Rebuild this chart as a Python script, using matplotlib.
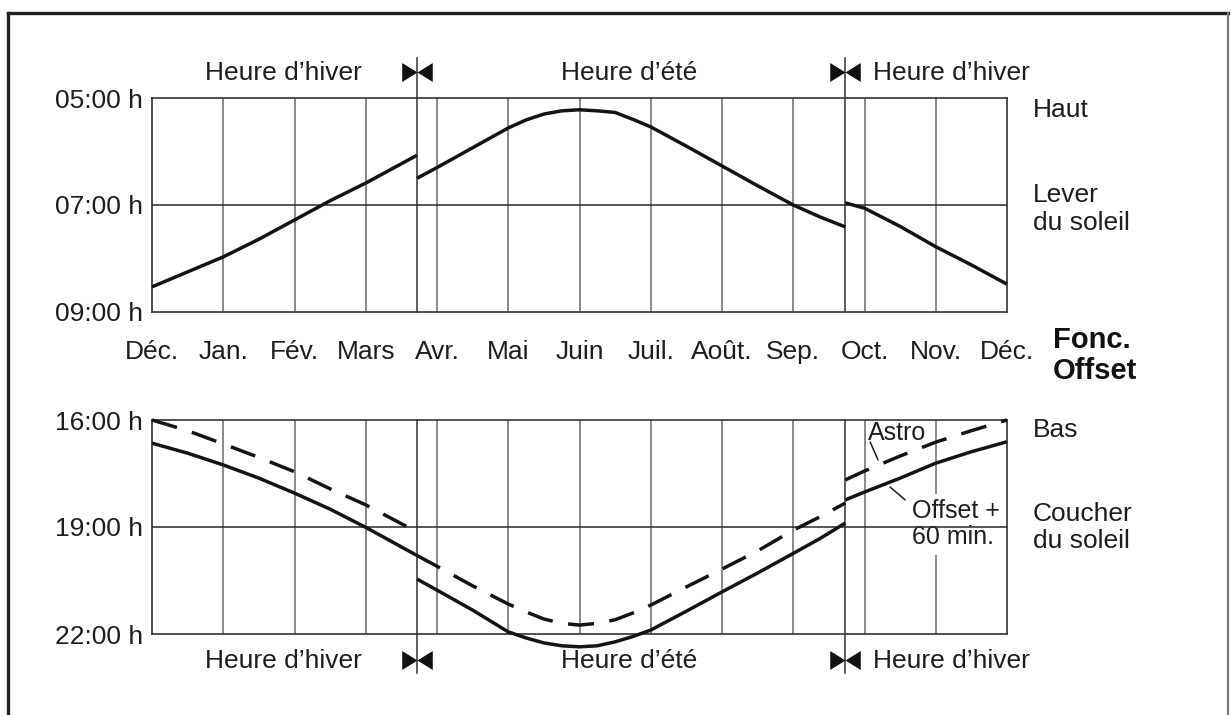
import matplotlib
matplotlib.use("Agg")
import matplotlib.pyplot as plt
from matplotlib.lines import Line2D

plt.rcParams['font.family'] = ['Liberation Sans', 'DejaVu Sans']

W, H = 1231, 715

months = ['Déc.', 'Jan.', 'Fév.', 'Mars', 'Avr.', 'Mai', 'Juin', 'Juil.',
          'Août.', 'Sep.', 'Oct.', 'Nov.', 'Déc.']
dst_spring = 3.72
dst_autumn = 9.73

# lever du soleil, heures décimales (x = mois depuis décembre)
rise_w1_x = [0, 0.5, 1, 1.5, 2, 2.5, 3, 3.72]
rise_w1_y = [8.53, 8.25, 7.97, 7.64, 7.28, 6.92, 6.59, 6.07]
rise_s_x = [3.72, 4, 4.5, 5, 5.25, 5.5, 5.75, 6, 6.25, 6.5, 6.75, 7, 7.5, 8,
            8.5, 9, 9.37, 9.73]
rise_s_y = [6.50, 6.30, 5.93, 5.56, 5.41, 5.30, 5.24, 5.22, 5.24, 5.27, 5.40,
            5.54, 5.90, 6.27, 6.64, 7.00, 7.22, 7.41]
rise_w2_x = [9.73, 10, 10.5, 11, 11.5, 12]
rise_w2_y = [6.96, 7.06, 7.40, 7.78, 8.12, 8.48]

# coucher du soleil : offset +60 min (trait plein) et astro (tirets)
set_w1_x = [0, 0.5, 1, 1.5, 2, 2.5, 3, 3.72]
offset_w1 = [16.65, 16.93, 17.26, 17.63, 18.05, 18.50, 19.01, 19.80]
astro_w1 = [16.00, 16.30, 16.67, 17.05, 17.45, 17.93, 18.38, 19.14]
set_s_x = [3.72, 4, 4.5, 5, 5.25, 5.5, 5.75, 6, 6.25, 6.5, 6.75, 7, 7.5, 8,
           8.5, 9, 9.37, 9.73]
offset_s = [20.46, 20.77, 21.33, 21.94, 22.11, 22.25, 22.33, 22.36, 22.33,
            22.22, 22.07, 21.89, 21.36, 20.82, 20.29, 19.74, 19.33, 18.89]
astro_s = [19.80, 20.10, 20.65, 21.16, 21.38, 21.58, 21.70, 21.75, 21.70,
           21.60, 21.41, 21.19, 20.68, 20.18, 19.67, 19.09, 18.72, 18.33]
set_w2_x = [9.73, 10, 10.5, 11, 11.5, 12]
offset_w2 = [18.24, 18.02, 17.63, 17.21, 16.89, 16.61]
astro_w2 = [17.68, 17.43, 17.01, 16.62, 16.30, 16.00]

INK = '#1e1e1e'
GRID = '#6a6a6a'
FS = 19
bowtie = [(-1, 0.62), (0, 0), (1, 0.62), (1, -0.62), (0, 0), (-1, -0.62), (-1, 0.62)]

fig = plt.figure(figsize=(W / 100, H / 100), dpi=100)
fig.patch.set_facecolor('white')

ax1 = fig.add_axes([152 / W, 1 - 312 / H, 855 / W, 214 / H])
ax2 = fig.add_axes([152 / W, 1 - 634 / H, 855 / W, 214 / H])

def base_axes(ax, ylim, yticks, ylabels, hline):
    ax.set_xlim(0, 12)
    ax.set_ylim(*ylim)
    ax.set_yticks(yticks)
    ax.set_yticklabels(ylabels, fontsize=FS, color=INK)
    ax.tick_params(axis='y', length=0, pad=6.5)
    for s in ax.spines.values():
        s.set_color('#333333')
        s.set_linewidth(1.2)
    for m in range(1, 12):
        ax.axvline(m, color=GRID, lw=1.1, zorder=1)
    ax.axhline(hline, color='#2a2a2a', lw=1.1, zorder=4)

base_axes(ax1, (9, 5), [5, 7, 9], ['05:00 h', '07:00 h', '09:00 h'], 7)
base_axes(ax2, (22, 16), [16, 19, 22], ['16:00 h', '19:00 h', '22:00 h'], 19)

ax1.set_xticks(range(13))
ax1.set_xticklabels(months, fontsize=FS, color=INK)
ax1.tick_params(axis='x', length=0, pad=20)
ax2.set_xticks([])

# changements d'heure : traits verticaux + noeuds papillon
for d in (dst_spring, dst_autumn):
    ax1.axvline(d, ymin=0, ymax=1 + 40 / 214, color='#333333', lw=1.1, clip_on=False, zorder=2)
    ax2.axvline(d, ymin=-39 / 214, ymax=1, color='#333333', lw=1.1, clip_on=False, zorder=2)
    ax1.plot([d], [1 + 26 / 214], marker=bowtie, ms=22, color='#111111', mew=0,
             linestyle='none', transform=ax1.get_xaxis_transform(), clip_on=False)
    ax2.plot([d], [-26 / 214], marker=bowtie, ms=22, color='#111111', mew=0,
             linestyle='none', transform=ax2.get_xaxis_transform(), clip_on=False)

lw = 2.5
for xs, ys in ((rise_w1_x, rise_w1_y), (rise_s_x, rise_s_y), (rise_w2_x, rise_w2_y)):
    ax1.plot(xs, ys, color='#141414', lw=lw, solid_capstyle='butt',
             solid_joinstyle='round', clip_on=False, zorder=5)

for xs, ys in ((set_w1_x, offset_w1), (set_s_x, offset_s), (set_w2_x, offset_w2)):
    ax2.plot(xs, ys, color='#141414', lw=lw, solid_capstyle='butt',
             solid_joinstyle='round', clip_on=False, zorder=5)
for xs, ys in ((set_w1_x, astro_w1), (set_s_x, astro_s), (set_w2_x, astro_w2)):
    ax2.plot(xs, ys, color='#141414', lw=lw, dashes=(7.5, 4.5), dash_capstyle='butt',
             dash_joinstyle='round', clip_on=False, zorder=5)

# bandeaux heure d'hiver / d'été
for ax, yy in ((ax1, 239 / 214), (ax2, -27 / 214)):
    tr = ax.get_xaxis_transform()
    ax.text(1.85, yy, 'Heure d’hiver', transform=tr, ha='center', va='center',
            fontsize=FS, color=INK)
    ax.text(6.69, yy, 'Heure d’été', transform=tr, ha='center', va='center',
            fontsize=FS, color=INK)
    ax.text(10.12, yy, 'Heure d’hiver', transform=tr, ha='left', va='center',
            fontsize=FS, color=INK)

# libellés à droite
ax1.text(1.0304, 0.944, 'Haut', transform=ax1.transAxes, ha='left', va='center',
         fontsize=FS, color=INK)
ax1.text(1.0304, 0.481, 'Lever\ndu soleil', transform=ax1.transAxes, ha='left',
         va='center', fontsize=FS, color=INK, linespacing=1.2)
ax1.text(1.0538, -0.203, 'Fonc.\nOffset', transform=ax1.transAxes, ha='left',
         va='center', fontsize=21, fontweight='bold', color='#111111', linespacing=1.15)
ax2.text(1.0304, 0.953, 'Bas', transform=ax2.transAxes, ha='left', va='center',
         fontsize=FS, color=INK)
ax2.text(1.0304, 0.498, 'Coucher\ndu soleil', transform=ax2.transAxes, ha='left',
         va='center', fontsize=FS, color=INK, linespacing=1.2)

# légendes des courbes
ax2.text(10.05, 16.36, 'Astro', ha='left', va='center', fontsize=18, color=INK, zorder=6)
ax2.annotate('', xy=(10.19, 17.12), xytext=(10.08, 16.62),
             arrowprops=dict(arrowstyle='-', color=INK, lw=1.1, shrinkA=0, shrinkB=0))
ax2.text(10.67, 18.92, 'Offset +\n60 min.', ha='left', va='center', fontsize=18,
         color=INK, linespacing=1.1, zorder=3,
         bbox=dict(facecolor='white', edgecolor='none', pad=4))
ax2.annotate('', xy=(10.57, 18.24), xytext=(10.36, 17.88),
             arrowprops=dict(arrowstyle='-', color=INK, lw=1.1, shrinkA=0, shrinkB=0))

# cadre de la page
tf = fig.transFigure
fig.add_artist(Line2D([8 / W, 8 / W], [1 - 13 / H, 0], transform=tf, lw=2.4, color='#222222'))
fig.add_artist(Line2D([8 / W, 1228 / W], [1 - 13 / H, 1 - 13 / H], transform=tf, lw=2.4, color='#222222'))
fig.add_artist(Line2D([1228 / W, 1228 / W], [1 - 13 / H, 0], transform=tf, lw=1.6, color='#777777'))

fig.savefig('out.png', dpi=100)
